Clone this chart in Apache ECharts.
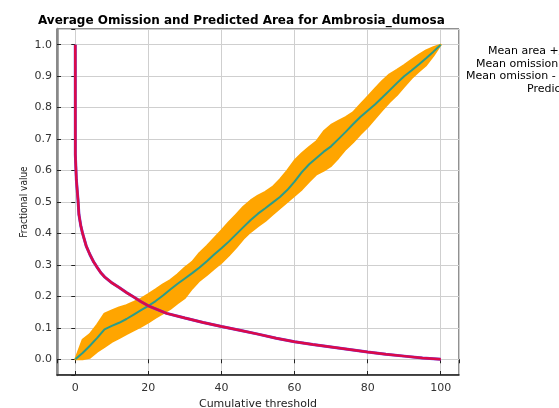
<!DOCTYPE html>
<html>
<head>
<meta charset="utf-8">
<script src="https://cdn.jsdelivr.net/npm/echarts@6/dist/echarts.min.js"></script>
<style>
  html, body { margin: 0; padding: 0; background: #fff; }
  #chart { width: 559px; height: 408px; }
</style>
</head>
<body>
<div id="chart"></div>
<script>
// cumulative threshold for the area curves
const areaX = [0, 2, 4, 6, 8, 10, 12, 14, 16, 18, 20, 22, 24, 26, 28, 30, 32, 34, 36, 38, 40,
  42, 44, 46, 48, 50, 52, 54, 56, 58, 60, 62, 64, 66, 68, 70, 72, 74, 76, 78, 80,
  82, 84, 86, 88, 90, 92, 94, 96, 98, 100]
// mean fractional predicted area
const areaMean = [0, 0.02, 0.043, 0.068, 0.095, 0.106, 0.116, 0.128, 0.142, 0.156, 0.17,
  0.185, 0.203, 0.222, 0.24, 0.257, 0.274, 0.292, 0.312, 0.333, 0.353,
  0.374, 0.397, 0.42, 0.443, 0.463, 0.48, 0.498, 0.516, 0.538, 0.565,
  0.595, 0.62, 0.64, 0.66, 0.677, 0.7, 0.723, 0.747, 0.77, 0.79,
  0.81, 0.832, 0.855, 0.878, 0.9, 0.918, 0.937, 0.957, 0.978, 1.0]
// mean area + one stddev
const areaUpper = [0, 0.062, 0.08, 0.11, 0.145, 0.155, 0.165, 0.172, 0.182, 0.193, 0.207,
  0.222, 0.238, 0.252, 0.27, 0.292, 0.31, 0.338, 0.36, 0.385, 0.41,
  0.436, 0.46, 0.485, 0.505, 0.52, 0.532, 0.548, 0.572, 0.6, 0.632,
  0.655, 0.675, 0.693, 0.725, 0.745, 0.758, 0.77, 0.785, 0.81, 0.835,
  0.86, 0.885, 0.906, 0.92, 0.935, 0.952, 0.968, 0.982, 0.992, 1.0]
// mean area - one stddev
const areaLower = [0, 0, 0.005, 0.024, 0.039, 0.055, 0.067, 0.08, 0.092, 0.104, 0.117,
  0.132, 0.146, 0.16, 0.178, 0.195, 0.225, 0.25, 0.268, 0.288, 0.307,
  0.33, 0.355, 0.383, 0.405, 0.423, 0.44, 0.46, 0.48, 0.5, 0.52,
  0.54, 0.565, 0.588, 0.6, 0.615, 0.64, 0.668, 0.69, 0.715, 0.738,
  0.765, 0.792, 0.818, 0.84, 0.867, 0.893, 0.915, 0.935, 0.965, 1.0]

// omission curve
const omissionX = [0, 0.02, 0.3, 0.75, 1, 1.5, 2, 3, 4, 5, 6, 7, 8, 10, 12, 14, 16, 18, 20,
  25, 30, 35, 40, 45, 50, 55, 60, 65, 70, 75, 80, 85, 90, 95, 100]
const omission = [1.0, 0.65, 0.57, 0.506, 0.46, 0.425, 0.4, 0.36, 0.333, 0.31, 0.292, 0.275,
  0.262, 0.243, 0.228, 0.212, 0.198, 0.183, 0.17, 0.146, 0.131, 0.117, 0.104,
  0.092, 0.08, 0.067, 0.056, 0.047, 0.039, 0.031, 0.023, 0.016, 0.01, 0.004, 0]

const legendTexts = ['Mean area +/- one stddev', 'Mean omission on training data',
  'Mean omission - one stddev', 'Predicted omission']

const font = 'DejaVu Sans'

const pairs = (xs, ys) => xs.map((x, i) => [x, ys[i]])

const chart = echarts.init(document.getElementById('chart'))

const tickInside = { show: true, inside: true, length: 4, lineStyle: { color: '#222', width: 1 } }

// stddev band drawn as one polygon: upper edge forward, lower edge back
function renderBand(params, api) {
  if (params.dataIndex !== 0) return null
  const up = areaX.map((x, i) => api.coord([x, areaUpper[i]]))
  const low = areaX.map((x, i) => api.coord([x, areaLower[i]])).reverse()
  return {
    type: 'polygon',
    shape: { points: up.concat(low) },
    style: { fill: '#ffa500', stroke: '#ffa500', lineWidth: 2, lineJoin: 'round' }
  }
}

const option = {
  animation: false,
  title: {
    text: 'Average Omission and Predicted Area for Ambrosia_dumosa',
    left: 33, top: 10,
    textStyle: { fontFamily: font, fontSize: 12, fontWeight: 'bold', color: '#000' }
  },
  grid: {
    left: 57, right: 100, top: 29, bottom: 33, containLabel: false, outerBoundsMode: 'none',
    show: true, borderColor: '#222', borderWidth: 1
  },
  xAxis: [{
    type: 'value', min: -5, max: 105, splitNumber: 5,
    name: 'Cumulative threshold', nameLocation: 'middle', nameGap: 22,
    nameTextStyle: { fontFamily: font, fontSize: 11, color: '#222' },
    axisLine: { show: true, onZero: false, lineStyle: { color: '#222', width: 1.5 } },
    axisTick: tickInside,
    axisLabel: {
      fontFamily: font, fontSize: 11, color: '#333', margin: 8,
      showMinLabel: false, showMaxLabel: false,
      formatter: v => (v % 20 === 0 ? String(v) : '')
    },
    splitLine: { show: true, lineStyle: { color: '#cfcfcf', width: 1 } }
  }, {
    type: 'value', min: -5, max: 105, splitNumber: 5, position: 'top',
    axisLine: { show: false }, axisTick: tickInside, axisLabel: { show: false }, splitLine: { show: false }
  }],
  yAxis: [{
    type: 'value', min: -0.05, max: 1.05, splitNumber: 11,
    name: 'Fractional value', nameLocation: 'middle', nameGap: 28, nameMoveOverlap: false,
    nameTextStyle: { fontFamily: 'DejaVu Sans Condensed', fontSize: 10, color: '#222' },
    axisLine: { show: true, onZero: false, lineStyle: { color: '#888', width: 2.5 } },
    axisTick: tickInside,
    axisLabel: {
      fontFamily: font, fontSize: 11, color: '#333', margin: 5,
      showMinLabel: false, showMaxLabel: false,
      formatter: v => (v >= 0 && v <= 1.0001 ? v.toFixed(1) : '')
    },
    splitLine: { show: true, lineStyle: { color: '#cfcfcf', width: 1 } }
  }, {
    type: 'value', min: -0.05, max: 1.05, splitNumber: 11, position: 'right',
    axisLine: { show: false }, axisTick: tickInside, axisLabel: { show: false }, splitLine: { show: false }
  }],
  graphic: legendTexts.map((t, i) => ({
    type: 'text',
    left: [488, 476, 466, 527][i],
    top: 46 + i * 12.5,
    style: { text: t, fontFamily: font, fontSize: 11, fill: '#000' }
  })),
  series: [
    {
      name: 'Mean area +/- one stddev', type: 'custom',
      renderItem: renderBand,
      data: pairs(areaX, areaMean), silent: true, z: 1
    },
    {
      name: 'Mean area', type: 'line', symbol: 'none',
      data: pairs(areaX, areaMean),
      lineStyle: { color: '#2a9d8a', width: 2 }, z: 3
    },
    {
      name: 'Mean omission - one stddev', type: 'line', symbol: 'none',
      data: pairs(omissionX, omission),
      lineStyle: { color: '#6a3be0', width: 3 }, z: 4
    },
    {
      name: 'Mean omission on training data', type: 'line', symbol: 'none',
      data: pairs(omissionX, omission),
      lineStyle: { color: '#dc0a48', width: 2.5 }, z: 5
    }
  ]
}

chart.setOption(option)
</script>
</body>
</html>
